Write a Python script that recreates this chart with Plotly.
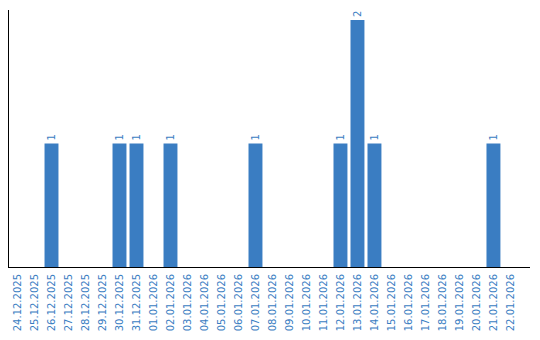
import plotly.graph_objects as go

dates = ["24.12.2025", "25.12.2025", "26.12.2025", "27.12.2025", "28.12.2025",
         "29.12.2025", "30.12.2025", "31.12.2025", "01.01.2026", "02.01.2026",
         "03.01.2026", "04.01.2026", "05.01.2026", "06.01.2026", "07.01.2026",
         "08.01.2026", "09.01.2026", "10.01.2026", "11.01.2026", "12.01.2026",
         "13.01.2026", "14.01.2026", "15.01.2026", "16.01.2026", "17.01.2026",
         "18.01.2026", "19.01.2026", "20.01.2026", "21.01.2026", "22.01.2026"]
counts = [0, 0, 1, 0, 0, 0, 1, 1, 0, 1,
          0, 0, 0, 0, 1, 0, 0, 0, 0, 1,
          2, 1, 0, 0, 0, 0, 0, 0, 1, 0]

blue = "#3a7dc2"
labels = [str(v) if v > 0 else "" for v in counts]

fig = go.Figure(go.Bar(
    x=dates, y=counts, marker_color=blue, marker_line_width=0,
    text=labels, textposition="outside", textangle=-90,
    textfont=dict(family="DejaVu Sans", size=10, color=blue),
    cliponaxis=False, width=0.82,
))
fig.update_layout(
    width=540, height=340, margin=dict(l=9, r=10, t=10, b=70),
    plot_bgcolor="white", paper_bgcolor="white", showlegend=False,
    bargap=0.18,
)
fig.update_xaxes(type="category", range=[-0.5, 30.15], showline=True, linecolor="black",
                 linewidth=1, ticks="", tickangle=-90, showgrid=False, ticklabelstandoff=2,
                 tickfont=dict(family="DejaVu Sans", size=10, color=blue))
fig.update_yaxes(range=[0, 2.08], showline=True, linecolor="black", linewidth=1,
                 showticklabels=False, showgrid=False, zeroline=False, ticks="")
fig.write_html("out.html")
